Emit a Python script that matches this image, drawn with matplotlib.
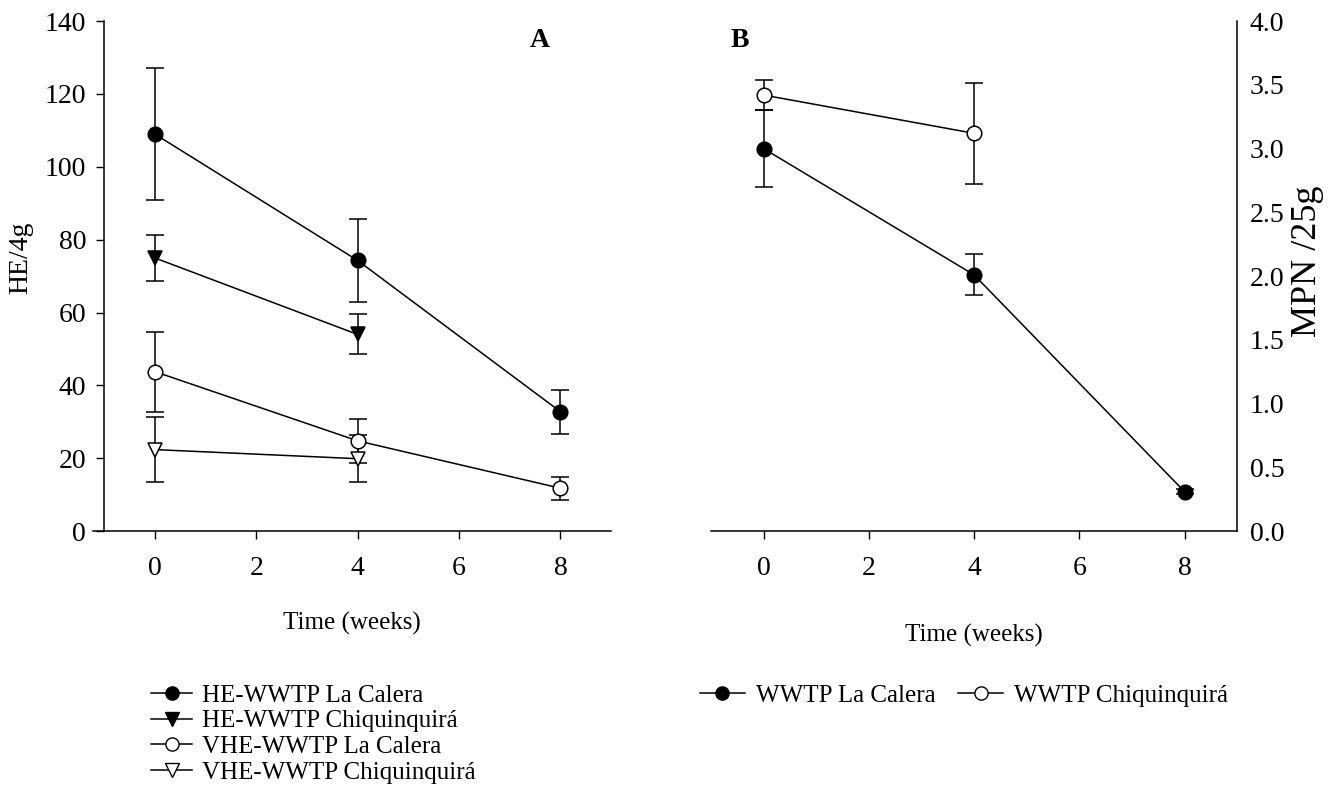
import matplotlib
matplotlib.use("Agg")
import matplotlib.pyplot as plt
from matplotlib.lines import Line2D
from matplotlib.ticker import FormatStrFormatter
import numpy as np

plt.rcParams['font.family'] = ['Liberation Serif', 'DejaVu Serif']
plt.rcParams['font.size'] = 18

# --- Podatki: panel A (HE/4g) ---
tedni = [0, 4, 8]
he_calera = [109, 74.3, 32.8]
he_calera_err = [18, 11.5, 6]
he_chiq = [75, 54]
he_chiq_err = [6.4, 5.5]
vhe_calera = [43.8, 24.8, 11.8]
vhe_calera_err = [11, 6, 3.1]
vhe_chiq = [22.4, 19.9]
vhe_chiq_err = [9, 6.4]

# --- Podatki: panel B (MPN /25g) ---
mpn_calera = [3.0, 2.01, 0.31]
mpn_calera_err = [0.3, 0.16, 0.02]
mpn_chiq = [3.42, 3.12]
mpn_chiq_err = [0.115, 0.395]

x_ticks = [0, 2, 4, 6, 8]

fig = plt.figure(figsize=(13.32, 8.11), dpi=100)
axA = fig.add_axes([0.0698, 0.345, 0.389, 0.629])
axB = fig.add_axes([0.5338, 0.345, 0.395, 0.629])

slog = dict(color='black', lw=1.1, ms=10.5, capsize=6.5, elinewidth=1.1, capthick=1.5,
            ecolor='black', markeredgecolor='black', markeredgewidth=1.1)


def serija(ax, x, y, err, marker, fill):
    ax.errorbar(x, y, yerr=err, marker=marker, markerfacecolor=fill, **slog)


def legenda_crta(marker, fill, label):
    # samo crta z markerjem, brez error barov
    return Line2D([], [], color='black', lw=1.1, marker=marker, ms=9.5,
                  markerfacecolor=fill, markeredgecolor='black', label=label)


# --- Panel A ---
serija(axA, tedni, he_calera, he_calera_err, 'o', 'black')
serija(axA, tedni[:2], he_chiq, he_chiq_err, 'v', 'black')
serija(axA, tedni, vhe_calera, vhe_calera_err, 'o', 'white')
serija(axA, tedni[:2], vhe_chiq, vhe_chiq_err, 'v', 'white')

axA.set_xlim(-1.22, 9.0)
axA.set_ylim(0, 140)
axA.set_xticks(x_ticks)
axA.set_yticks(np.arange(0, 141, 20))
axA.spines['top'].set_visible(False)
axA.spines['right'].set_visible(False)
axA.spines['left'].set_position(('data', -1))
axA.tick_params(axis='both', direction='out', length=6, width=1, labelsize=20, pad=7)
axA.tick_params(axis='x', pad=12)
axA.set_xlabel('Time (weeks)', fontsize=18, labelpad=22)
axA.set_ylabel('HE/4g', fontsize=20)
axA.yaxis.set_label_coords(-0.115, 0.535)
axA.text(0.863, 0.962, 'A', transform=axA.transAxes, fontsize=20, fontweight='bold',
         ha='center', va='center')

# --- Panel B ---
serija(axB, tedni, mpn_calera, mpn_calera_err, 'o', 'black')
serija(axB, tedni[:2], mpn_chiq, mpn_chiq_err, 'o', 'white')

axB.set_xlim(-1.0, 9.0)
axB.set_ylim(0, 4.0)
axB.set_xticks(x_ticks)
axB.set_yticks(np.arange(0, 4.01, 0.5))
axB.yaxis.set_major_formatter(FormatStrFormatter('%.1f'))
axB.yaxis.tick_right()
axB.yaxis.set_label_position('right')
axB.spines['top'].set_visible(False)
axB.spines['left'].set_visible(False)
axB.tick_params(axis='x', direction='out', length=6, width=1, labelsize=20, pad=12)
axB.tick_params(axis='y', length=0, labelsize=20, pad=9)
axB.set_xlabel('Time (weeks)', fontsize=18, labelpad=31)
axB.set_ylabel('MPN /25g', fontsize=26)
axB.yaxis.set_label_coords(1.103, 0.53)
axB.text(0.055, 0.962, 'B', transform=axB.transAxes, fontsize=20, fontweight='bold',
         ha='center', va='center')

for ax in (axA, axB):
    for s in ax.spines.values():
        s.set_linewidth(1.1)

# --- Legende ---
leg_a = [legenda_crta('o', 'black', 'HE-WWTP La Calera'),
         legenda_crta('v', 'black', 'HE-WWTP Chiquinquirá'),
         legenda_crta('o', 'white', 'VHE-WWTP La Calera'),
         legenda_crta('v', 'white', 'VHE-WWTP Chiquinquirá')]
leg_b = [legenda_crta('o', 'black', 'WWTP La Calera'),
         legenda_crta('o', 'white', 'WWTP Chiquinquirá')]

fig.legend(handles=leg_a, loc='upper left', bbox_to_anchor=(0.104, 0.172),
           frameon=False, fontsize=18, handlelength=1.65, handletextpad=0.4,
           labelspacing=0.13, borderpad=0)
fig.legend(handles=leg_b, loc='upper left', bbox_to_anchor=(0.516, 0.172), ncol=2,
           frameon=False, fontsize=18, handlelength=1.8, handletextpad=0.45,
           columnspacing=0.9, borderpad=0)

fig.savefig('out.png', dpi=100)
